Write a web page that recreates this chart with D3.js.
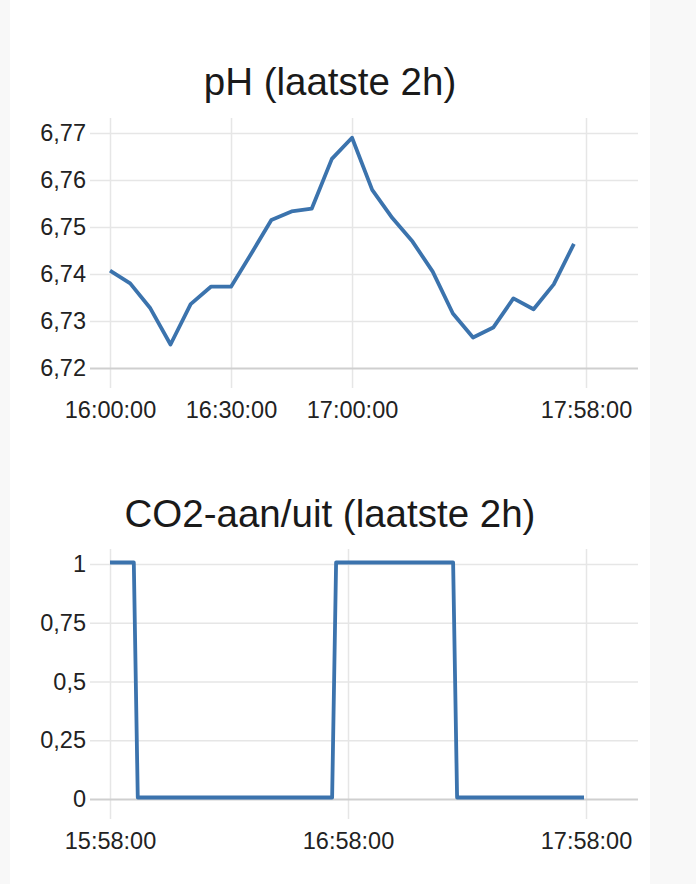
<!DOCTYPE html>
<html>
<head>
<meta charset="utf-8">
<script src="https://cdn.jsdelivr.net/npm/d3@7"></script>
<style>
  html, body { margin: 0; padding: 0; background: #f8f8f8; }
  svg { display: block; font-family: "Liberation Sans", Arial, sans-serif; }
  .grid line { stroke: #e6e6e6; stroke-width: 1.5; }
  .grid .base line { stroke: #cfcfcf; stroke-width: 2; }
  .grid text { fill: #222; font-size: 23.5px; }
  .title { fill: #1a1a1a; font-size: 38.5px; }
  .series { fill: none; stroke: #3b73ad; stroke-width: 3.8; stroke-linejoin: round; }
</style>
</head>
<body>
<svg width="696" height="884"></svg>
<script>
// pH, one reading every 5 minutes
var phTimes = ["16:00:00","16:05:00","16:10:00","16:15:00","16:20:00","16:25:00",
               "16:30:00","16:35:00","16:40:00","16:45:00","16:50:00","16:55:00",
               "17:00:00","17:05:00","17:10:00","17:15:00","17:20:00","17:25:00",
               "17:30:00","17:35:00","17:40:00","17:45:00","17:50:00","17:55:00"];
var phValues = [6.7407, 6.7380, 6.7327, 6.7250, 6.7336, 6.7373,
                6.7373, 6.7443, 6.7515, 6.7533, 6.7539, 6.7645,
                6.7690, 6.7579, 6.7519, 6.7469, 6.7405, 6.7316,
                6.7265, 6.7286, 6.7348, 6.7325, 6.7378, 6.7464];
var phTicks = [6.72, 6.73, 6.74, 6.75, 6.76, 6.77];
var phTimeTicks = ["16:00:00", "16:30:00", "17:00:00", "17:58:00"];
var phRange = ["16:00:00", "17:58:00"];

// CO2 on/off switch
var co2Times = ["15:58:00","16:04:00","16:05:00","16:54:00","16:55:00","17:24:30","17:25:30","17:57:30"];
var co2Values = [1, 1, 0, 0, 1, 1, 0, 0];
var co2Ticks = [0, 0.25, 0.5, 0.75, 1];
var co2TimeTicks = ["15:58:00", "16:58:00", "17:58:00"];
var co2Range = ["15:58:00", "17:58:00"];

var svg = d3.select("svg");
var parse = d3.timeParse("%H:%M:%S");
var nl = d3.formatLocale({decimal: ",", thousands: ".", grouping: [3], currency: ["€", ""]});

svg.append("rect").attr("x", 10).attr("y", 0).attr("width", 640).attr("height", 884).attr("fill", "#fff");

function chart(o) {
  var x = d3.scaleTime().domain(o.range.map(parse)).range([110, 586]);
  var y = d3.scaleLinear().domain(o.ydomain).range([o.bottom, o.top]);
  var g = svg.append("g");

  g.append("text").attr("class", "title")
    .attr("x", 330).attr("y", o.titleY)
    .attr("text-anchor", "middle")
    .text(o.title);

  // horizontal grid + y labels
  var ya = g.append("g").attr("class", "grid")
    .attr("transform", "translate(90,0)")
    .call(d3.axisLeft(y).tickValues(o.yticks).tickSize(-548).tickPadding(4).tickFormat(o.yfmt));
  ya.select(".domain").remove();
  ya.selectAll(".tick").classed("base", function(d) { return d === o.ydomain[0]; });

  // vertical grid + x labels
  var xa = g.append("g").attr("class", "grid")
    .attr("transform", "translate(0," + (o.bottom + 20) + ")")
    .call(d3.axisBottom(x).tickValues(o.xticks.map(parse))
      .tickSize(-(o.bottom - o.top + 35)).tickPadding(13).tickFormat(d3.timeFormat("%H:%M:%S")));
  xa.select(".domain").remove();
  // base grid line sits over the verticals
  ya.raise();

  var line = d3.line()
    .x(function(d) { return x(d[0]); })
    .y(function(d) { return y(d[1]); });
  g.append("path").attr("class", "series")
    .attr("d", line(o.times.map(function(t, i) { return [parse(t), o.values[i]]; })))
    .attr("transform", o.shift ? "translate(0," + o.shift + ")" : null);
}

chart({
  title: "pH (laatste 2h)", titleY: 95,
  times: phTimes, values: phValues,
  range: phRange, xticks: phTimeTicks,
  ydomain: [6.72, 6.77], yticks: phTicks, yfmt: nl.format(".2f"),
  top: 133, bottom: 368
});

chart({
  title: "CO2-aan/uit (laatste 2h)", titleY: 527,
  times: co2Times, values: co2Values,
  range: co2Range, xticks: co2TimeTicks,
  ydomain: [0, 1], yticks: co2Ticks, yfmt: nl.format("~f"),
  top: 564, bottom: 799, shift: -1.5
});
</script>
</body>
</html>
